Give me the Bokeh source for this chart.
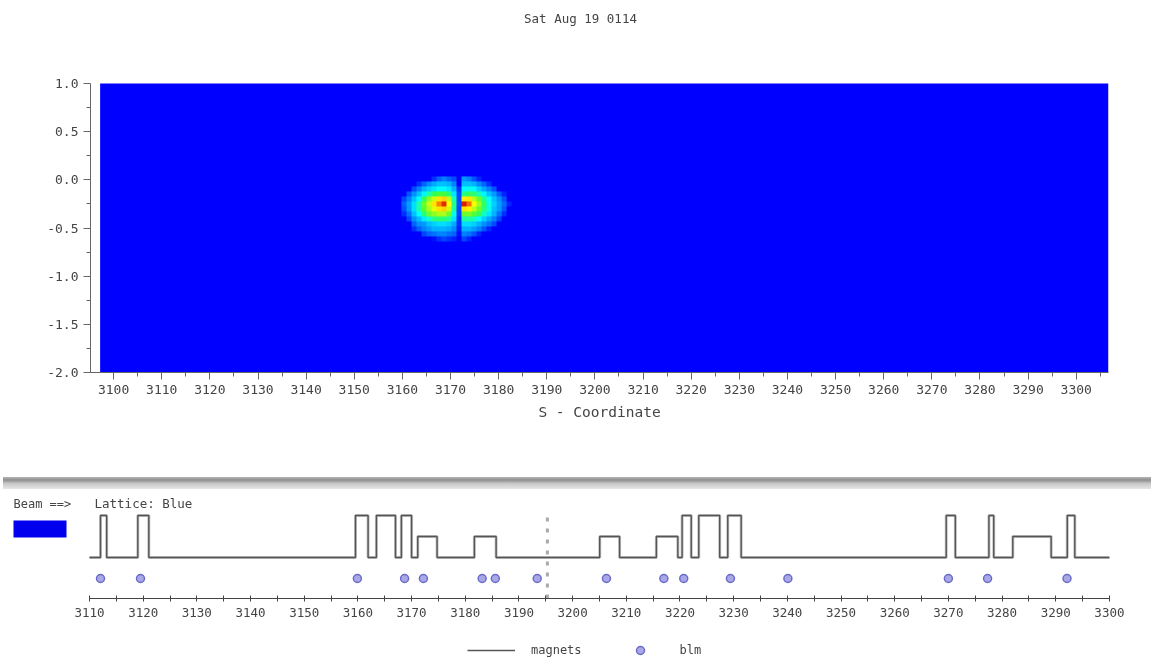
from bokeh.plotting import figure
from bokeh.layouts import column
from bokeh.models import (FixedTicker, LinearColorMapper, Label, BoxAnnotation, Div,
                          Legend, LegendItem, Range1d)
from bokeh.embed import file_html
from bokeh.resources import INLINE
import numpy as np

FONT = "DejaVu Sans Mono"
TXT = "#444444"
BLUR = {"filter": "blur(0.5px)"}

title_text = "Sat Aug 19 0114"
x_label = "S - Coordinate"
beam_text = "Beam ==>"
lattice_text = "Lattice: Blue"

# Upper panel
heat_x_range = (3095.2, 3306.7)
heat_y_range = (-2.0, 1.8616)
heat_y_bounds = (-2.0, 1.0)
field_x = (3097.2, 3306.7)
heat_x_ticks = list(range(3100, 3301, 10))
heat_x_minor = list(range(3095, 3306, 5))
heat_y_ticks = [1.0, 0.5, 0.0, -0.5, -1.0, -1.5, -2.0]
heat_y_labels = ["1.0", "0.5", "0.0", "-0.5", "-1.0", "-1.5", "-2.0"]
heat_y_minor = [0.75, 0.25, -0.25, -0.75, -1.25, -1.75]

# Intensity, top row first, left lobe then right lobe
blob_s_start = 3159.8
blob_s_width = 22.87
blob_y_top = 0.035
blob_y_height = 0.675
row_01 = [0,0,0,0,0,0,.03,.08,.12,.08,.05,0, .15,.12,.06,.02,0,0,0,0,0,0]
row_02 = [0,0,0,.03,.08,.13,.17,.2,.2,.18,.12,0, .2,.2,.18,.13,.08,.03,0,0,0,0]
row_03 = [0,0,.05,.12,.18,.22,.25,.28,.28,.25,.18,.03, .28,.3,.28,.22,.17,.12,.06,0,0,0]
row_04 = [0,.06,.14,.2,.27,.36,.42,.46,.46,.4,.25,.05, .38,.42,.4,.34,.27,.2,.15,.07,.02,0]
row_05 = [.04,.12,.2,.28,.42,.55,.62,.72,.75,.6,.35,.05, .7,.72,.6,.5,.38,.28,.2,.14,.06,0]
row_06 = [.08,.16,.24,.36,.5,.62,.72,.88,.98,.68,.38,.06, 1.0,.9,.68,.56,.42,.3,.22,.16,.09,.02]
row_07 = [.06,.15,.24,.36,.48,.58,.65,.72,.75,.62,.36,.05, .72,.7,.6,.5,.4,.3,.2,.15,.07,0]
row_08 = [.03,.1,.2,.28,.4,.5,.55,.58,.58,.5,.3,.04, .5,.52,.48,.42,.33,.25,.18,.1,.03,0]
row_09 = [0,.05,.14,.2,.26,.33,.38,.4,.4,.36,.25,.03, .36,.36,.34,.28,.22,.17,.12,.04,0,0]
row_10 = [0,0,.08,.14,.15,.2,.22,.24,.24,.22,.17,.03, .24,.24,.22,.18,.14,.1,.05,0,0,0]
row_11 = [0,0,.03,.08,.12,.15,.18,.18,.18,.17,.13,.02, .18,.18,.16,.12,.06,.02,0,0,0,0]
row_12 = [0,0,0,0,.04,.08,.1,.12,.12,.1,.08,.01, .12,.1,.06,.02,0,0,0,0,0,0]
row_13 = [0,0,0,0,0,0,.01,.03,.04,.03,.02,0, .04,.02,0,0,0,0,0,0,0,0]

# Lower panel
lat_x_range = (3093.42, 3307.84)
lat_bounds = (3110, 3300)
lat_y_range = (-0.976, 1.595)
lat_ticks = list(range(3110, 3301, 10))
lat_minor = list(range(3115, 3300, 10))
magnet_start = [3112.05, 3119.0, 3159.55, 3163.45, 3168.1, 3171.15, 3181.7, 3205.05, 3215.6,
                3220.4, 3223.5, 3228.9, 3269.6, 3277.55, 3282.0, 3292.15]
magnet_end = [3113.2, 3121.05, 3161.9, 3167.0, 3170.0, 3174.75, 3185.75, 3208.75, 3219.6,
              3222.1, 3227.4, 3231.4, 3271.3, 3278.45, 3289.15, 3293.55]
magnet_height = [1, 1, 1, 1, 1, .5, .5, .5, .5, 1, 1, 1, 1, 1, .5, 1]
blm_s = [3112.05, 3119.5, 3159.9, 3168.7, 3172.2, 3183.15, 3185.6, 3193.4, 3206.3, 3217.0,
         3220.7, 3229.4, 3240.1, 3270.0, 3277.3, 3292.1]
blm_y = [-0.5] * len(blm_s)
beam_marker_s = 3195.3
key_x = [2, 3]
key_y = [2, 2]

# Colour ramp
anchors = [(0, 0, 255), (0, 70, 255), (0, 170, 255), (0, 255, 255), (60, 255, 60), (255, 255, 0), (255, 130, 0), (215, 30, 0)]
stops = [0, .04, .17, .28, .45, .68, .88, 1.0]
t = np.linspace(0, 1, 256)
ch = [np.interp(t, stops, [a[i] for a in anchors]) for i in range(3)]
palette = ["#%02x%02x%02x" % (int(r), int(g), int(b)) for r, g, b in zip(*ch)]

top = figure(width=1151, height=476, output_backend="svg", toolbar_location=None,
             x_range=Range1d(*heat_x_range), y_range=Range1d(*heat_y_range),
             min_border_left=90, min_border_right=43, min_border_top=0, min_border_bottom=104,
             styles=BLUR)
top.outline_line_color = None
top.grid.visible = False
top.quad(left=field_x[0], right=field_x[1], bottom=heat_y_bounds[0], top=heat_y_bounds[1],
         fill_color=palette[0], line_color=None)
grid = np.array([row_01, row_02, row_03, row_04, row_05, row_06, row_07, row_08, row_09,
                 row_10, row_11, row_12, row_13], dtype=float)[::-1]
mapper = LinearColorMapper(palette=palette, low=0, high=1)
top.image(image=[grid], x=blob_s_start, y=blob_y_top - blob_y_height,
          dw=blob_s_width, dh=blob_y_height, color_mapper=mapper)

xa = top.xaxis[0]
xa.ticker = FixedTicker(ticks=heat_x_ticks, minor_ticks=heat_x_minor)
xa.axis_label = x_label
xa.axis_label_text_font = FONT
xa.axis_label_text_font_size = "14.5px"
xa.axis_label_text_font_style = "normal"
xa.axis_label_text_color = TXT
xa.axis_label_standoff = 7
ya = top.yaxis[0]
ya.bounds = heat_y_bounds
ya.ticker = FixedTicker(ticks=heat_y_ticks, minor_ticks=heat_y_minor)
ya.major_label_overrides = dict(zip(heat_y_ticks, heat_y_labels))
ya.major_label_orientation = "horizontal"
for a in (xa, ya):
    a.axis_line_color = "#666666"
    a.major_tick_line_color = "#666666"
    a.minor_tick_line_color = "#666666"
    a.major_tick_out = 7
    a.major_tick_in = 0
    a.minor_tick_out = 4
    a.minor_tick_in = 0
    a.major_label_text_font = FONT
    a.major_label_text_font_size = "13px"
    a.major_label_text_color = TXT
    a.major_label_standoff = 5
top.add_layout(Label(x=490, y=354, x_units="screen", y_units="screen", text=title_text,
                     text_font=FONT, text_font_size="12.5px", text_color=TXT,
                     text_align="center", text_baseline="middle"))

bar = Div(text="", width=1148, height=12, margin=(1, 0, 1, 3),
          styles={"background": "linear-gradient(#b5b5b5 0%, #8f8f8f 25%, #c8c8c8 55%, #e6e6e6 100%)",
                  "filter": "blur(0.5px)"})

bot = figure(width=1151, height=135, output_backend="svg", toolbar_location=None,
             x_range=Range1d(*lat_x_range), y_range=Range1d(*lat_y_range),
             min_border_left=0, min_border_right=0, min_border_top=0, min_border_bottom=27,
             styles=BLUR)
bot.outline_line_color = None
bot.grid.visible = False
bot.yaxis.visible = False

MAG_STYLE = dict(line_color="#555555", line_width=1.4)
BLM_STYLE = dict(marker="circle", size=8, fill_color="#a8a8e8", line_color="#6c6cc8", line_width=1.5)

xs, ys = [lat_bounds[0]], [0]
for a, b, h in zip(magnet_start, magnet_end, magnet_height):
    xs += [a, a, b, b]
    ys += [0, h, h, 0]
xs.append(lat_bounds[1])
ys.append(0)
bot.line(xs, ys, line_color="#c4c4c4", line_width=3)
bot.line(xs, ys, **MAG_STYLE)
bot.line([beam_marker_s, beam_marker_s], [lat_y_range[0], 1.0], line_color="#aaaaaa",
         line_width=3, line_dash="4 7")
bot.scatter(blm_s, blm_y, **BLM_STYLE)

bx = bot.xaxis[0]
bx.bounds = lat_bounds
bx.ticker = FixedTicker(ticks=lat_ticks, minor_ticks=lat_minor)
bx.axis_line_color = "#444444"
bx.major_tick_line_color = "#444444"
bx.minor_tick_line_color = "#444444"
bx.major_tick_out = 3
bx.major_tick_in = 3
bx.minor_tick_out = 3
bx.minor_tick_in = 3
bx.major_label_text_font = FONT
bx.major_label_text_font_size = "12.5px"
bx.major_label_text_color = TXT
bx.major_label_standoff = 6

bot.add_layout(Label(x=13, y=95, x_units="screen", y_units="screen", text=beam_text, text_font=FONT,
                     text_font_size="12px", text_color=TXT, text_baseline="middle"))
bot.add_layout(Label(x=94, y=95, x_units="screen", y_units="screen", text=lattice_text, text_font=FONT,
                     text_font_size="12.5px", text_color=TXT, text_baseline="middle"))
bot.add_layout(BoxAnnotation(left=13, right=66, top=78, bottom=61, left_units="screen", right_units="screen",
                             top_units="screen", bottom_units="screen", fill_color="#0000ee", fill_alpha=1,
                             line_color=None))

leg = figure(width=1151, height=41, output_backend="svg", toolbar_location=None,
             x_axis_type=None, y_axis_type=None, x_range=Range1d(0, 1), y_range=Range1d(0, 1),
             min_border_left=0, min_border_right=0, min_border_top=0, min_border_bottom=0,
             styles=BLUR)
leg.outline_line_color = None
mag_key = leg.line(key_x, key_y, **MAG_STYLE)
blm_key = leg.scatter(key_x, key_y, **BLM_STYLE)
leg.add_layout(Legend(items=[LegendItem(label="magnets", renderers=[mag_key]),
                             LegendItem(label="blm", renderers=[blm_key])],
                      orientation="horizontal", location=(467, 6), glyph_width=48, glyph_height=20,
                      label_standoff=16, spacing=34, padding=0, margin=0, border_line_color=None,
                      background_fill_alpha=0, label_text_font=FONT, label_text_font_size="12px",
                      label_text_color=TXT))

page = column(column(top), bar, column(bot), column(leg), spacing=0)
open("out.html", "w").write(file_html(page, INLINE))
